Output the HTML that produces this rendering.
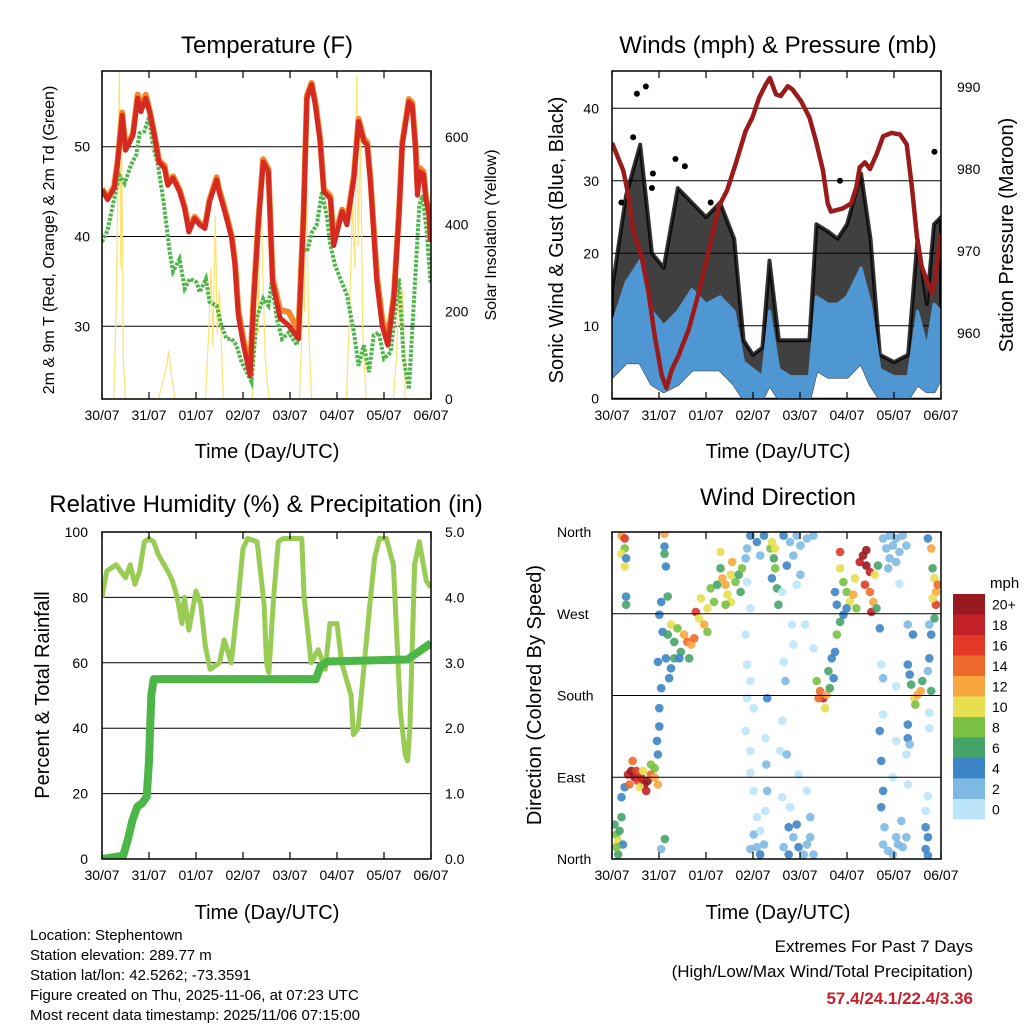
<!DOCTYPE html>
<html><head><meta charset="utf-8"><style>
body{margin:0;background:#fff}
svg{display:block;font-family:"Liberation Sans",sans-serif}
</style></head><body>
<svg id="root" width="1024" height="1024" viewBox="0 0 1024 1024" xmlns="http://www.w3.org/2000/svg">
<rect x="0" y="0" width="1024" height="1024" fill="#fff"/>
<text x="267" y="53" font-size="24" text-anchor="middle">Temperature (F)</text>
<text x="778" y="53" font-size="24" text-anchor="middle">Winds (mph) &amp; Pressure (mb)</text>
<text x="266" y="512" font-size="24" text-anchor="middle">Relative Humidity (%) &amp; Precipitation (in)</text>
<text x="778" y="505" font-size="24" text-anchor="middle">Wind Direction</text>
<text x="267" y="458" font-size="20" text-anchor="middle">Time (Day/UTC)</text>
<text x="778" y="458" font-size="20" text-anchor="middle">Time (Day/UTC)</text>
<text x="267" y="919" font-size="20" text-anchor="middle">Time (Day/UTC)</text>
<text x="778" y="919" font-size="20" text-anchor="middle">Time (Day/UTC)</text>
<text transform="translate(54,240) rotate(-90)" font-size="16" text-anchor="middle">2m &amp; 9m T (Red, Orange) &amp; 2m Td (Green)</text>
<text transform="translate(496,235) rotate(-90)" font-size="16" text-anchor="middle">Solar Insolation (Yellow)</text>
<text transform="translate(563,240) rotate(-90)" font-size="20" text-anchor="middle">Sonic Wind &amp; Gust (Blue, Black)</text>
<text transform="translate(1013,235) rotate(-90)" font-size="20" text-anchor="middle">Station Pressure (Maroon)</text>
<text transform="translate(49,695) rotate(-90)" font-size="20" text-anchor="middle">Percent &amp; Total Rainfall</text>
<text transform="translate(541,695) rotate(-90)" font-size="20" text-anchor="middle">Direction (Colored By Speed)</text>
<g font-size="15">
<text x="30" y="940">Location: Stephentown</text>
<text x="30" y="960">Station elevation: 289.77 m</text>
<text x="30" y="980">Station lat/lon: 42.5262; -73.3591</text>
<text x="30" y="1000">Figure created on Thu, 2025-11-06, at 07:23 UTC</text>
<text x="30" y="1020">Most recent data timestamp: 2025/11/06 07:15:00</text>
</g>
<g font-size="17" text-anchor="end">
<text x="973" y="952">Extremes For Past 7 Days</text>
<text x="973" y="977">(High/Low/Max Wind/Total Precipitation)</text>
<text x="973" y="1004" font-weight="bold" fill="#c8202a">57.4/24.1/22.4/3.36</text>
</g>
<text x="990" y="588" font-size="15">mph</text>
</svg>
<script>
// ---------- DATA ----------
const dayLabels=["30/07","31/07","01/07","02/07","03/07","04/07","05/07","06/07"];
// Temperature panel
const tempT=[0,.12,.26,.33,.43,.5,.58,.66,.76,.83,.93,1.01,1.12,1.21,1.33,1.4,1.51,1.65,1.76,1.85,1.97,2.08,2.19,2.29,2.44,2.49,2.61,2.76,2.83,2.9,3.01,3.15,3.23,3.33,3.43,3.54,3.63,3.79,3.97,4.18,4.29,4.36,4.46,4.54,4.64,4.72,4.86,4.93,5.04,5.11,5.21,5.36,5.46,5.57,5.64,5.71,5.85,5.96,6.08,6.21,6.32,6.39,6.53,6.6,6.67,6.71,6.77,6.84,6.89,6.96,6.99];
const temp2m=[45.2,44.1,45.4,48,53.5,49.6,50.4,51.3,55.4,53.9,55.4,53.9,51.1,48.3,47.6,45.7,46.5,45,43.1,40.5,42,41.3,40.9,43.9,46.3,45,42.8,39.8,36.8,31.2,27.9,24.5,33.1,41.6,48.3,47.2,34.9,30.9,30.1,28.6,42.4,55.4,56.9,54.6,50.6,45,44.2,39,41.3,42.8,41.3,46.5,52.8,50.6,50.2,46.1,34.9,30.1,27.9,33.1,42.4,50.2,55,54.6,49.8,44.6,47.2,46.9,44.2,42.4,39.4];
const temp9m=[45.3,44.3,45.6,48.3,53.8,49.9,50.6,51.5,55.8,54.2,55.8,54.1,51.3,48.5,47.9,45.9,46.7,45.2,43.3,40.8,42.2,41.5,41.1,44.1,46.6,45.3,43.1,40.1,37.2,31.8,28.5,25.2,33.6,42,48.6,47.5,35.4,31.8,31.6,29.5,42.8,55.7,57.1,54.9,50.9,45.3,44.5,39.4,41.6,43,41.6,46.8,53.1,50.9,50.5,46.5,35.6,30.9,28.6,33.5,42.7,50.5,55.3,54.9,50.2,45.6,47.6,47.2,44.5,42.7,39.7];
const dewT=[0,.12,.23,.37,.48,.62,.73,.8,.9,1,1.08,1.19,1.3,1.37,1.44,1.51,1.65,1.76,1.87,2.01,2.08,2.21,2.29,2.44,2.54,2.65,2.76,2.86,2.97,3.08,3.18,3.29,3.43,3.54,3.61,3.72,3.83,3.97,4.15,4.25,4.36,4.47,4.57,4.68,4.79,4.86,4.96,5.07,5.21,5.36,5.46,5.57,5.68,5.78,5.89,6,6.14,6.32,6.42,6.53,6.64,6.75,6.82,6.91,6.99];
const dewpoint=[39.4,40.7,43.5,46.8,45.9,48,49.1,51.5,51.7,53.3,50.2,48,44.2,41.3,38.3,36.1,37.5,34.2,35.3,34.9,33.8,35.3,32.7,32.3,30.1,28.6,28.6,27.9,26,24.9,23.8,30.9,33.1,32.3,34.9,30.9,28.6,29.3,27.9,39,38.3,40.5,41.3,45,42,39,36.8,35.3,33.5,29.3,25.6,27.9,24.9,29,29.3,26.4,27.1,35.3,26.4,23,33.1,43.5,44.6,40.5,34.9];
const solarT=[0,.25,.3,.34,.37,.4,.42,.45,.5,1.2,1.3,1.38,1.42,1.47,1.55,2.2,2.27,2.32,2.36,2.41,2.45,2.5,2.58,3.2,3.27,3.3,3.33,3.37,3.42,3.47,3.55,4.2,4.25,4.28,4.31,4.35,4.4,4.46,5.2,5.27,5.33,5.38,5.42,5.45,5.5,5.55,5.62,6.2,6.27,6.32,6.36,6.4,6.45,7];
const solarW=[0,0,200,500,750,300,600,100,0,0,40,80,110,60,0,0,150,300,120,420,150,250,0,0,180,350,150,550,300,100,0,0,150,380,200,500,150,0,0,200,450,300,740,350,600,150,0,0,100,280,150,250,0,0];
// Winds panel
const presT=[0,.24,.34,.45,.63,.77,.91,1.06,1.16,1.27,1.41,1.63,1.84,2.06,2.27,2.45,2.63,2.84,2.99,3.13,3.27,3.36,3.49,3.59,3.74,3.84,4.02,4.2,4.34,4.49,4.59,4.66,4.91,5.09,5.2,5.27,5.38,5.49,5.63,5.77,5.95,6.13,6.27,6.38,6.49,6.59,6.74,6.81,6.88,6.99];
const pressure=[983.2,979.8,977,972.5,969.3,965.2,959.6,954.8,953.3,955.5,957.2,960.4,964.8,970.1,975.4,977.4,980.6,984.6,986.3,988.7,990.3,991.1,989.1,988.9,990.1,989.7,988.3,986.3,983.4,979.8,975.8,974.8,975.2,975.8,977.8,980.2,980.8,980,981.8,984,984.4,984.2,983,977.8,971.7,968.1,965.7,964.8,966.9,972.1];
const windT=[0,.3,.6,.85,1.1,1.4,1.7,2,2.3,2.6,2.8,3,3.2,3.35,3.55,3.8,4.2,4.35,4.6,4.8,5,5.3,5.5,5.7,6,6.3,6.5,6.7,6.85,7];
const windLow=[3,5,5,2,1,2,4,4,4,2,0,0,0,2,0,0,0,4,3,3,3,5,2,0,0,0,2,1,1,3];
const windHigh=[10,16,19,12,10,12,15,13,14,12,5,4,3,12,4,3,3,14,13,13,14,18,13,4,3,3,12,7,13,12];
const gustHigh=[15,28,35,20,18,29,27,25,27,22,8,6,7,19,8,8,8,24,23,22,24,31,22,6,5,6,22,13,24,25];
const gustOutT=[.53,.72,.45,.85,.87,1.35,4.85,6.86,.2,1.55,2.1];
const gustOut=[42,43,36,29,31,33,30,34,27,32,27];
// Humidity panel
const rhT=[0,.1,.3,.5,.6,.7,.8,.9,1,1.1,1.2,1.4,1.5,1.6,1.7,1.75,1.85,2,2.1,2.2,2.3,2.5,2.6,2.75,2.9,3,3.1,3.3,3.45,3.5,3.55,3.65,3.75,3.85,4,4.25,4.3,4.45,4.6,4.75,4.85,5,5.1,5.3,5.35,5.45,5.55,5.7,5.8,5.9,6.05,6.2,6.35,6.45,6.5,6.55,6.65,6.75,6.9,7];
const rh=[80,88,90,86,90,84,88,97,98,97,93,88,85,80,72,80,70,82,78,65,58,60,67,60,80,95,98,97,78,60,57,80,97,98,98,98,80,60,64,58,72,72,60,50,38,40,55,78,92,98,98,90,45,32,30,40,90,97,85,83];
const rainT=[0,.45,.55,.65,.75,.85,.95,1,1.05,1.1,4.55,4.65,4.8,6.5,6.7,7];
const rainIn=[0,.05,.3,.6,.8,.85,.95,1.5,2.5,2.75,2.75,2.95,3.02,3.05,3.15,3.3];
// Wind direction panel: [day, degrees, mph]
const windObs=[
[.01,38,7],[.05,27,8],[.09,20,10],[.12,31,7],[.16,46,6],[.19,16,5],[.09,5,6],[.16,68,5],[.23,79,5],[.05,13,8],
[.3,93,18],[.37,97,20],[.44,90,20],[.51,86,16],[.58,90,18],[.65,82,20],[.72,86,20],[.79,93,14],[.87,90,12],[.4,108,14],[.55,79,10],[.69,75,18],[.87,100,8],[.94,82,12],[.33,82,14],[.48,97,16],[.62,97,10],[.79,104,8],
[.16,356,12],[.23,353,16],[.23,342,8],[.16,336,10],[.26,331,5],[.23,322,10],[.26,289,5],[.26,280,6],
[1.08,358,12],[1.08,344,4],[1.11,322,4],[1.08,336,6],[1.01,283,4],[.97,269,4],[.94,217,4],[1.01,188,4],[.97,166,5],[.97,146,4],[.92,130,5],[.94,115,4],[1.09,22,6],[1.01,11,3],[1.15,289,6],
[1.04,250,4],[1.15,247,6],[1.22,258,10],[1.29,239,6],[1.36,254,8],[1.43,228,6],[1.5,247,12],[1.57,239,14],[1.65,236,12],[1.72,243,14],[1.11,221,4],[1.22,210,4],[1.29,221,6],[1.4,221,4],[1.61,221,6],[1.18,199,4],[1.75,272,16],[1.82,265,10],[1.86,287,10],[1.93,258,12],[2,276,10],[2.07,298,8],[2,250,8],[2.14,283,8],
[2.21,302,6],[2.28,320,6],[2.32,309,12],[2.39,302,12],[2.43,291,10],[2.5,313,10],[2.53,327,12],[2.6,305,8],[2.67,313,6],[2.71,294,6],[2.74,320,8],[2.28,338,10],[2.5,283,10],[2.39,280,8],
[2.85,342,2],[2.92,356,4],[3.06,349,4],[3.21,356,4],[3.13,334,2],[2.82,331,2],[2.85,305,1],[2.92,276,1],[2.82,247,1],[2.85,214,1],[2.92,196,1],[2.85,177,1],[2.99,166,1],[2.82,141,1],[2.92,119,1],[2.92,95,1],[2.99,75,1],[3.06,46,1],[2.99,27,2],[3.06,13,3],[3.13,5,4],[3.21,16,2],[2.92,11,2],[3.28,177,4],[3.24,133,1],[3.26,104,2],[3.28,75,2],[3.24,53,1],[3.13,31,1],
[3.35,342,8],[3.38,349,10],[3.42,331,6],[3.45,320,8],[3.38,309,4],[3.49,298,6],[3.52,280,6],[3.45,342,10],
[3.63,356,4],[3.77,349,2],[3.91,356,2],[3.99,345,2],[4.13,353,2],[4.27,356,2],[3.84,334,2],[3.7,323,4],[3.99,313,2],[3.91,302,1],[3.6,294,1],[3.81,258,1],[4.09,258,1],[4.27,232,1],[3.84,236,1],[3.63,217,1],[3.67,196,2],[3.6,152,1],[3.56,119,1],[3.7,115,2],[3.6,68,1],[3.77,57,1],[3.95,93,1],[4.13,75,1],[4.2,46,2],[3.74,35,4],[3.84,24,3],[3.95,13,4],[4.06,5,3],[4.13,16,3],[4.27,5,3],[3.63,13,2],[3.91,38,4],[4.2,24,3],[3.74,5,4],
[4.34,196,8],[4.41,185,14],[4.48,177,18],[4.55,181,12],[4.38,177,14],[4.52,166,10],[4.62,188,6],[4.59,207,6],[4.7,199,4],[4.66,221,4],[4.73,228,4],[4.77,247,8],[4.84,261,6],[4.91,269,4],
[4.84,338,16],[4.84,320,10],[4.91,305,8],[4.98,294,8],[5.05,283,10],[5.12,291,12],[5.16,309,10],[5.26,327,18],[5.33,334,20],[5.4,323,20],[5.48,316,18],[5.37,302,16],[5.48,294,14],[5.55,283,12],[5.58,313,10],[5.65,323,6],[5.19,276,8],[4.98,276,4],[5.4,340,20],[5.51,272,18],[4.77,280,4],[5.62,276,6],[4.73,294,4],
[5.76,353,3],[5.83,342,3],[5.9,356,2],[5.97,345,3],[6.04,353,2],[6.11,338,2],[6.18,356,2],[6.26,345,2],[5.9,331,2],[6.04,327,2],[5.87,320,2],[6.11,303,1],[5.69,254,4],[5.72,214,1],[5.76,199,2],[5.76,159,1],[5.69,141,4],[5.72,108,4],[5.76,75,4],[5.72,57,4],[5.79,35,3],[5.76,16,2],[5.87,9,3],[5.97,5,3],[6.08,16,2],[6.18,13,2],[6.26,24,2],[6.04,24,2],[6.15,42,2],[5.97,90,1],[6.04,130,1],[6.26,115,1],[6.29,82,1],[6.04,190,1],
[6.29,214,4],[6.33,203,4],[6.36,192,6],[6.43,177,10],[6.5,181,12],[6.57,185,12],[6.45,170,8],[6.6,196,6],[6.4,247,4],[6.29,258,2],[6.29,148,4],[6.29,133,4],[6.33,126,2],
[6.72,353,4],[6.79,342,12],[6.82,320,6],[6.86,309,10],[6.89,294,12],[6.89,280,16],[6.93,302,14],[6.82,287,10],[6.86,265,6],[6.75,258,2],[6.79,247,4],[6.75,221,4],[6.72,207,2],[6.79,185,6],[6.75,161,1],[6.75,144,1],[6.72,69,1],[6.67,53,1],[6.67,35,4],[6.72,24,4],[6.67,11,4],[6.72,4,4]
];
const speedLabels=["0","2","4","6","8","10","12","14","16","18","20+"];
const speedColors=["#bde5f8","#7eb9e4","#3d85c6","#46a46a","#7ac143","#e6df4f","#f8a73e","#ee6a2b","#e23a26","#c4202a","#981a1f"];
const dirLabels=["North","East","South","West","North"];
const dirTicks=[0,90,180,270,360];

// ---------- RENDER ----------
const NS="http://www.w3.org/2000/svg";
const root=document.getElementById('root');
function mk(tag,attrs,parent){const e=document.createElementNS(NS,tag);for(const k in attrs)e.setAttribute(k,attrs[k]);(parent||root).appendChild(e);return e;}
function lin(d0,d1,r0,r1){return v=>r0+(v-d0)/(d1-d0)*(r1-r0);}
function pathOf(xs,ys,sx,sy){return xs.map((t,i)=>(i?'L':'M')+sx(t).toFixed(1)+','+sy(ys[i]).toFixed(1)).join('');}

function frame(g,x0,y0,x1,y1){
  mk('rect',{x:x0,y:y0,width:x1-x0,height:y1-y0,fill:'none',stroke:'#000','stroke-width':1.5},g);
  const sx=lin(0,7,x0,x1);
  for(let d=0;d<=7;d++){
    const x=sx(d);
    mk('line',{x1:x,y1:y1,x2:x,y2:y1-7,stroke:'#000','stroke-width':1.2},g);
    mk('line',{x1:x,y1:y0,x2:x,y2:y0+7,stroke:'#000','stroke-width':1.2},g);
    const tl=mk('text',{x:x,y:y1+21,'font-size':14,'text-anchor':'middle'},g);
    tl.textContent=dayLabels[d];
    
    
  }
  return sx;
}
function leftTicks(g,x0,x1,sy,vals,labels,grid,lx,anchor){
  vals.forEach((v,i)=>{
    const y=sy(v);
    if(grid) mk('line',{x1:x0,y1:y,x2:x1,y2:y,stroke:'#000','stroke-width':1},g);
    const t=mk('text',{x:lx,y:y+5,'font-size':14,'text-anchor':anchor},g);
    t.textContent=labels[i];
    
    
  });
}

// Panel 1 - temperature
(function(){
  const g=mk('g',{});
  
  
  const x0=102,x1=431,y0=71,y1=399;
  const sy=lin(30,50,326.3,146.7), sr=lin(0,600,399,137);
  const sx=lin(0,7,x0,x1);
  const clip=mk('clipPath',{id:'c1'},g);mk('rect',{x:x0,y:y0,width:x1-x0,height:y1-y0},clip);
  leftTicks(g,x0,x1,sy,[30,40,50],["30","40","50"],true,90,'end');
  leftTicks(g,x0,x1,sr,[0,200,400,600],["0","200","400","600"],false,445,'start');
  const cg=mk('g',{'clip-path':'url(#c1)'},g);
  const sol=mk('path',{d:pathOf(solarT,solarW,sx,sr),fill:'none',stroke:'#ffe270','stroke-width':1.2},cg);
  
  const dp=mk('path',{d:pathOf(dewT,dewpoint,sx,sy),fill:'none',stroke:'#4cb648','stroke-width':4,'stroke-dasharray':'3 1.5'},cg);
  
  const t9=mk('path',{d:pathOf(tempT,temp9m,sx,sy),fill:'none',stroke:'#f5862a','stroke-width':6,'stroke-linejoin':'round'},cg);
  
  const t2=mk('path',{d:pathOf(tempT,temp2m,sx,sy),fill:'none',stroke:'#d42a22','stroke-width':5,'stroke-linejoin':'round'},cg);
  
  frame(g,x0,y0,x1,y1);
})();

// Panel 2 - winds
(function(){
  const g=mk('g',{});
  
  
  const x0=612,x1=941,y0=71,y1=399;
  const sy=lin(0,40,398.3,108.3), sp=lin(960,990,333,87);
  const sx=lin(0,7,x0,x1);
  const clip=mk('clipPath',{id:'c2'},g);mk('rect',{x:x0,y:y0,width:x1-x0,height:y1-y0},clip);
  leftTicks(g,x0,x1,sy,[0,10,20,30,40],["0","10","20","30","40"],true,599,'end');
  leftTicks(g,x0,x1,sp,[960,970,980,990],["960","970","980","990"],false,957,'start');
  const cg=mk('g',{'clip-path':'url(#c2)'},g);
  let d=pathOf(windT,gustHigh,sx,sy);
  for(let i=windT.length-1;i>=0;i--) d+='L'+sx(windT[i]).toFixed(1)+','+sy(windLow[i]).toFixed(1);
  const gb=mk('path',{d:d+'Z',fill:'#000',stroke:'#000','stroke-width':4,'stroke-linejoin':'round','fill-opacity':0.75,'stroke-opacity':0.8},cg);
  
  gustOutT.forEach((t,i)=>{
    const c=mk('circle',{cx:sx(t),cy:sy(gustOut[i]),r:3,fill:'#000'},cg);
    
    
  });
  let b=pathOf(windT,windHigh,sx,sy);
  for(let i=windT.length-1;i>=0;i--) b+='L'+sx(windT[i]).toFixed(1)+','+sy(windLow[i]).toFixed(1);
  const bb=mk('path',{d:b+'Z',fill:'#4f97d3',stroke:'#4f97d3','stroke-width':3,'stroke-linejoin':'round'},cg);
  
  const pl=mk('path',{d:pathOf(presT,pressure,sx,sp),fill:'none',stroke:'#9b1b1b','stroke-width':4.5,'stroke-linejoin':'round'},cg);
  
  frame(g,x0,y0,x1,y1);
})();

// Panel 3 - humidity
(function(){
  const g=mk('g',{});
  
  
  const x0=102,x1=431,y0=532,y1=859;
  const sy=lin(0,100,859,532), sr=lin(0,5,859,532);
  const sx=lin(0,7,x0,x1);
  const clip=mk('clipPath',{id:'c3'},g);mk('rect',{x:x0,y:y0,width:x1-x0,height:y1-y0},clip);
  leftTicks(g,x0,x1,sy,[0,20,40,60,80,100],["0","20","40","60","80","100"],true,88,'end');
  leftTicks(g,x0,x1,sr,[0,1,2,3,4,5],["0.0","1.0","2.0","3.0","4.0","5.0"],false,445,'start');
  const cg=mk('g',{'clip-path':'url(#c3)'},g);
  const r=mk('path',{d:pathOf(rhT,rh,sx,sy),fill:'none',stroke:'#99cc55','stroke-width':5,'stroke-linejoin':'round'},cg);
  
  const p=mk('path',{d:pathOf(rainT,rainIn,sx,sr),fill:'none',stroke:'#4cb648','stroke-width':8,'stroke-linejoin':'round'},cg);
  
  frame(g,x0,y0,x1,y1);
})();

// Panel 4 - wind direction
(function(){
  const g=mk('g',{});
  
  
  const x0=612,x1=941,y0=532,y1=859;
  const sy=lin(0,360,859,532);
  const sx=lin(0,7,614,941);
  const clip=mk('clipPath',{id:'c4'},g);mk('rect',{x:x0,y:y0,width:x1-x0,height:y1-y0},clip);
  const cg=mk('g',{'clip-path':'url(#c4)'},g);
  windObs.forEach(o=>{
    const c=mk('circle',{cx:sx(o[0]).toFixed(1),cy:sy(o[1]).toFixed(1),r:4.3,fill:speedColors[Math.min(10,Math.floor(o[2]/2))],'fill-opacity':0.9},cg);
    
    
  });
  leftTicks(g,x0,x1,sy,dirTicks,dirLabels,true,557,'start');
  frame(g,x0,y0,x1,y1);
  const cb=mk('g',{},root);
  
  
  const h=20.5;
  speedColors.forEach((c,i)=>{
    const y=594+(10-i)*h;
    const r=mk('rect',{x:953,y:y,width:32,height:h,fill:c},cb);
    
    
    const t=mk('text',{x:992,y:y+h/2+5,'font-size':14},cb);
    t.textContent=speedLabels[i];
    
    
  });
})();
</script>
</body></html>
